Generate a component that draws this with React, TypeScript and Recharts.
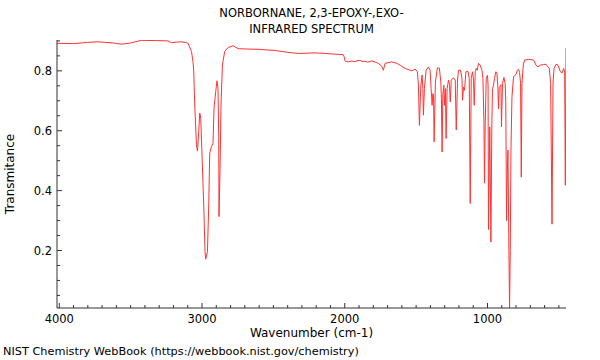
import { LineChart, Line, XAxis, YAxis } from "recharts"

// IR spectrum (wavenumber in cm-1, transmittance)
const wavenumbers = [
  4016, 3900, 3802, 3730, 3620, 3566, 3500, 3425, 3320, 3239, 3215, 3180, 3145, 3109, 3098,
  3074, 3063, 3058, 3051, 3039, 3032, 3023, 3016, 3009, 3000, 2988, 2979, 2974, 2962, 2953,
  2946, 2934, 2923, 2916, 2904, 2895, 2888, 2883, 2881, 2874, 2867, 2857, 2841, 2817, 2782,
  2747, 2700, 2607, 2490, 2400, 2326, 2209, 2139, 2010, 2003, 1998, 1975, 1951, 1928, 1915,
  1893, 1878, 1858, 1840, 1811, 1790, 1765, 1740, 1730, 1722, 1718, 1671, 1636, 1612, 1577,
  1530, 1507, 1491, 1484, 1477, 1467, 1458, 1453, 1449, 1442, 1430, 1414, 1402, 1395, 1388,
  1383, 1378, 1374, 1365, 1351, 1337, 1327, 1323, 1318, 1313, 1306, 1302, 1295, 1290, 1283,
  1273, 1266, 1261, 1254, 1238, 1226, 1219, 1210, 1203, 1189, 1179, 1175, 1168, 1161, 1151,
  1137, 1128, 1121, 1114, 1105, 1098, 1093, 1086, 1079, 1072, 1063, 1051, 1039, 1032, 1025,
  1021, 1016, 1009, 1000, 996, 993, 984, 976, 970, 965, 958, 951, 941, 934, 927,
  923, 918, 913, 906, 902, 895, 885, 876, 872, 866.5, 861.6, 856.6, 851, 845.4, 840.5,
  835.6, 828.6, 817.4, 805.5, 798.4, 791.4, 782.3, 775.3, 768.3, 763.3, 758.4, 749.3, 740.2, 712.1, 677,
  660.2, 646.1, 630, 606.8, 590, 576, 566.9, 557.7, 547.9, 540.9, 533.9, 519.9, 505.9, 489.6, 477.7,
  466.5, 459.5, 454.6, 450,
]

const transmittance = [
  0.892, 0.891, 0.895, 0.897, 0.893, 0.889, 0.893, 0.902, 0.901, 0.9, 0.894, 0.896, 0.897, 0.894, 0.892,
  0.865, 0.83, 0.8, 0.686, 0.553, 0.532, 0.597, 0.659, 0.642, 0.519, 0.352, 0.196, 0.171, 0.196, 0.352,
  0.525, 0.547, 0.558, 0.675, 0.731, 0.767, 0.742, 0.575, 0.313, 0.464, 0.686, 0.82, 0.865, 0.878, 0.884,
  0.874, 0.873, 0.872, 0.868, 0.862, 0.858, 0.86, 0.858, 0.854, 0.845, 0.833, 0.83, 0.833, 0.83, 0.834,
  0.835, 0.831, 0.832, 0.829, 0.833, 0.83, 0.825, 0.815, 0.802, 0.815, 0.825, 0.83, 0.825, 0.819, 0.808,
  0.8, 0.806, 0.797, 0.752, 0.618, 0.752, 0.786, 0.741, 0.652, 0.741, 0.802, 0.813, 0.802, 0.741, 0.685,
  0.724, 0.72, 0.563, 0.763, 0.81, 0.809, 0.763, 0.708, 0.529, 0.719, 0.752, 0.685, 0.741, 0.574, 0.741,
  0.769, 0.752, 0.696, 0.769, 0.777, 0.769, 0.603, 0.769, 0.802, 0.802, 0.775, 0.702, 0.746, 0.735, 0.797,
  0.799, 0.775, 0.357, 0.775, 0.797, 0.769, 0.685, 0.797, 0.808, 0.802, 0.825, 0.819, 0.802, 0.775, 0.63,
  0.425, 0.62, 0.775, 0.785, 0.752, 0.27, 0.613, 0.228, 0.6, 0.741, 0.752, 0.775, 0.797, 0.793, 0.741,
  0.673, 0.745, 0.748, 0.754, 0.613, 0.758, 0.778, 0.757, 0.7, 0.3, 0.45, 0.535, 0.25, 0.005, 0.2,
  0.535, 0.713, 0.78, 0.786, 0.79, 0.802, 0.805, 0.795, 0.758, 0.445, 0.758, 0.819, 0.836, 0.838, 0.836,
  0.819, 0.813, 0.819, 0.821, 0.822, 0.813, 0.808, 0.758, 0.288, 0.758, 0.808, 0.822, 0.819, 0.797, 0.793,
  0.808, 0.8, 0.418, 0.876,
]

const xTicks = [
  500, 600, 700, 800, 900, 1000, 1100, 1200, 1300, 1400, 1500, 1600, 1700, 1800, 1900, 2000, 2100, 2200,
  2300, 2400, 2500, 2600, 2700, 2800, 2900, 3000, 3100, 3200, 3300, 3400, 3500, 3600, 3700, 3800, 3900, 4000,
]
const yTicks = [
  0.05, 0.1, 0.15, 0.2, 0.25, 0.3, 0.35, 0.4, 0.45, 0.5, 0.55, 0.6, 0.65, 0.7, 0.75, 0.8, 0.85, 0.9,
]

const titleLines = ["NORBORNANE, 2,3-EPOXY-,EXO-", "INFRARED SPECTRUM"]
const xTitle = "Wavenumber (cm-1)"
const yTitle = "Transmitance"
const footer = "NIST Chemistry WebBook (https://webbook.nist.gov/chemistry)"

const data = wavenumbers.map((wn, i) => ({ wn, t: transmittance[i] }))

const font = "'DejaVu Sans', sans-serif"
const xDomain = [450, 4016]
const yDomain = [0.008, 0.903]

function XTick({ x, y, payload }: any) {
  const v = payload.value
  const major = v % 1000 === 0
  return (
    <g>
      <line x1={x} x2={x} y1={y} y2={y - (major ? 5 : 3)} stroke="#333" />
      {major && (
        <text x={x} y={y + 15} textAnchor="middle" fontSize={11.5} fontFamily={font} fill="#000">
          {v}
        </text>
      )}
    </g>
  )
}

function YTick({ x, y, payload }: any) {
  const v = payload.value
  const major = Math.round(v * 100) % 20 === 0
  return (
    <g>
      <line x1={x} x2={x + (major ? 5 : 3)} y1={y} y2={y} stroke="#333" />
      {major && (
        <text x={x - 5} y={y + 4} textAnchor="end" fontSize={11.5} fontFamily={font} fill="#000">
          {v.toFixed(1)}
        </text>
      )}
    </g>
  )
}

export default function App() {
  return (
    <div style={{ position: "absolute", left: 0, top: 0, width: 600, height: 360, fontFamily: font, background: "#fff" }}>
      <LineChart width={600} height={360} data={data} margin={{ top: 40, right: 34, bottom: 0, left: 0 }}>
        <XAxis
          dataKey="wn"
          type="number"
          domain={xDomain}
          reversed
          allowDataOverflow
          ticks={xTicks}
          interval={0}
          tick={<XTick />}
          tickLine={false}
          tickSize={0}
          tickMargin={0}
          height={52}
          axisLine={{ stroke: "#333" }}
          label={{ value: xTitle, position: "insideTop", offset: 20, fill: "#000", fontSize: 12, fontFamily: font }}
        />
        <XAxis
          xAxisId="top"
          orientation="top"
          type="number"
          domain={xDomain}
          reversed
          allowDataOverflow
          tick={false}
          tickLine={false}
          height={0}
          axisLine={{ stroke: "#999" }}
        />
        <YAxis
          type="number"
          domain={yDomain}
          allowDataOverflow
          ticks={yTicks}
          interval={0}
          tick={<YTick />}
          tickLine={false}
          tickSize={0}
          tickMargin={0}
          width={57}
          axisLine={{ stroke: "#333" }}
          label={{
            value: yTitle,
            angle: -90,
            position: "insideLeft",
            offset: 10,
            fill: "#000",
            fontSize: 12,
            fontFamily: font,
            style: { textAnchor: "middle" },
          }}
        />
        <YAxis
          yAxisId="right"
          orientation="right"
          type="number"
          domain={yDomain}
          allowDataOverflow
          tick={false}
          tickLine={false}
          width={0}
          axisLine={{ stroke: "#999" }}
        />
        <Line
          type="linear"
          dataKey="t"
          stroke="#ff3333"
          strokeWidth={1}
          dot={false}
          isAnimationActive={false}
        />
      </LineChart>
      {titleLines.map((s, i) => (
        <div
          key={s}
          style={{
            position: "absolute",
            left: 57,
            width: 509,
            top: 6 + i * 16,
            textAlign: "center",
            fontSize: 11.5,
            lineHeight: "14px",
            color: "#000",
          }}
        >
          {s}
        </div>
      ))}
      <div style={{ position: "absolute", left: 3, top: 345, fontSize: 11.3, lineHeight: "14px", color: "#000", whiteSpace: "nowrap" }}>
        {footer}
      </div>
    </div>
  )
}
